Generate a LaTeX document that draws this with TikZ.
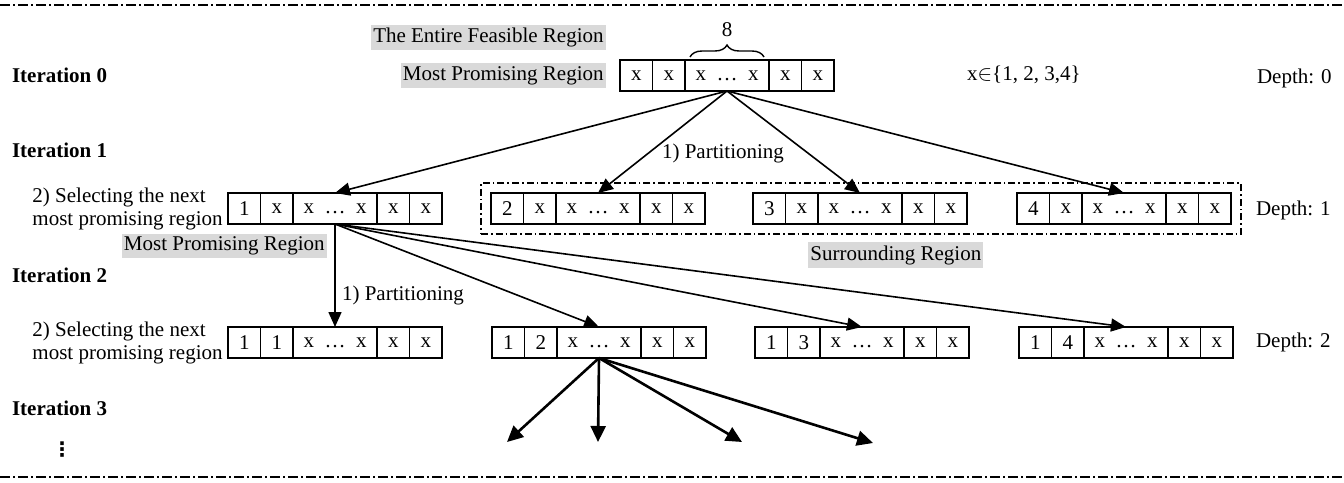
\documentclass[tikz,border=0pt]{standalone}
\usepackage{fontspec}
\setmainfont{Liberation Serif}
\newfontfamily\symbolfont{DejaVu Sans}
\usepackage{tikz}
\usetikzlibrary{
  arrows.meta,
  positioning,
  fit,
  decorations.pathreplacing
}
\definecolor{RegionGray}{HTML}{D9D9D9}

\begin{document}
\begin{tikzpicture}[
  x=0.5pt,y=-0.5pt,
  font=\fontsize{10.5}{11.5}\selectfont,
  >={Triangle[length=7.5pt,width=6.5pt]},
  cell/.style={
    draw,
    line width=0.8pt,
    minimum width=16.25pt,
    minimum height=15.5pt,
    inner sep=0pt,
    outer sep=0pt
  },
  widecell/.style={cell,minimum width=42pt},
  iterlabel/.style={font=\bfseries\fontsize{10.5}{11.5}\selectfont,anchor=west},
  graylabel/.style={fill=RegionGray,inner xsep=1pt,inner ysep=1.5pt},
  steplabel/.style={align=left,inner sep=1.5pt},
  depthlabel/.style={anchor=west},
  partition/.style={->,line width=0.8pt},
  framebar/.style={line width=0.8pt,dash pattern=on 5pt off 1.5pt on 1pt off 1.5pt},
  surroundbox/.style={draw,line width=0.6pt,inner sep=5pt,
    dash pattern=on 3.5pt off 1.5pt on 0.8pt off 1.5pt}
]
\useasboundingbox (0,0) rectangle (1344,482);

% Frame lines top and bottom.
\draw[framebar] (0,5) -- (1344,5);
\draw[framebar] (0,477) -- (1344,477);

% Iteration labels on the left.
\node[iterlabel] (iter0) at (5,75) {Iteration 0};
\node[iterlabel] (iter1) at (5,150) {Iteration 1};
\node[iterlabel] (iter2) at (5,275) {Iteration 2};
\node[iterlabel] (iter3) at (5,408) {Iteration 3};
\node[font=\symbolfont\bfseries\fontsize{10}{11}\selectfont] (dots) at (62,450) {⋮};

% Region rows: five cells each, the third one wide.
\foreach \rg/\px/\py/\ca/\cb in {
  top/620/60/x/x,
  one/228/193/1/x, two/491/193/2/x, three/753/193/3/x, four/1017/193/4/x,
  oneone/228/327/1/1, onetwo/492/327/1/2, onethree/755/327/1/3, onefour/1019/327/1/4}{
  \node[cell,anchor=north west] (\rg-1) at (\px,\py) {\ca};
  \node[cell,right=0pt of \rg-1] (\rg-2) {\cb};
  \node[widecell,right=0pt of \rg-2] (\rg-3) {x\enspace…\enspace x};
  \node[cell,right=0pt of \rg-3] (\rg-4) {x};
  \node[cell,right=0pt of \rg-4] (\rg-5) {x};
}

% Iteration 0 annotations.
\node[graylabel,anchor=east] (entire) at (606,37.5) {The Entire Feasible Region};
\node[graylabel,left=7pt of top-1] (promising0) {Most Promising Region};
\draw[decorate,decoration={brace,amplitude=6pt},line width=0.7pt]
  ([xshift=2.5pt,yshift=1.5pt]top-3.north west) --
  ([xshift=-2.5pt,yshift=1.5pt]top-3.north east);
\node (width) at ([yshift=15pt]top-3.north) {8};
\node[anchor=west] (domain) at (960,75) {x$\in$\{1, 2, 3,4\}};
\node[depthlabel] (depth0) at (1250,78) {Depth: 0};

% Iteration 1 annotations.
\node[surroundbox,fit=(two-1)(four-5)] (surround) {};
\node[graylabel,anchor=west] (surroundlabel) at (808,255) {Surrounding Region};
\node[steplabel,left=1pt of one-1] (select1)
  {2) Selecting the next\\most promising region};
\node[graylabel,anchor=east] (promising1) at (327,246) {Most Promising Region};
\node (part0) at (723,153) {1) Partitioning};
\node[depthlabel] (depth1) at (1249,210) {Depth: 1};

% Iteration 2 annotations.
\node[steplabel,left=1pt of oneone-1] (select2)
  {2) Selecting the next\\most promising region};
\node (part1) at (403,295) {1) Partitioning};
\node[depthlabel] (depth2) at (1249,342) {Depth: 2};

% Partitioning arrows.
\foreach \dst in {one,two,three,four}
  \draw[partition] (top-3.south) -- (\dst-3.north);
\foreach \dst in {oneone,onetwo,onethree,onefour}
  \draw[partition] (one-3.south) -- (\dst-3.north);

\coordinate (next1) at (507,442);
\coordinate (next2) at (598,442);
\coordinate (next3) at (742,442);
\coordinate (next4) at (873,443);
\foreach \dst in {next1,next2,next3,next4}
  \draw[-{Triangle[length=8pt,width=7.5pt]},line width=1.3pt]
    (onetwo-3.south) -- (\dst);
\end{tikzpicture}
\end{document}
